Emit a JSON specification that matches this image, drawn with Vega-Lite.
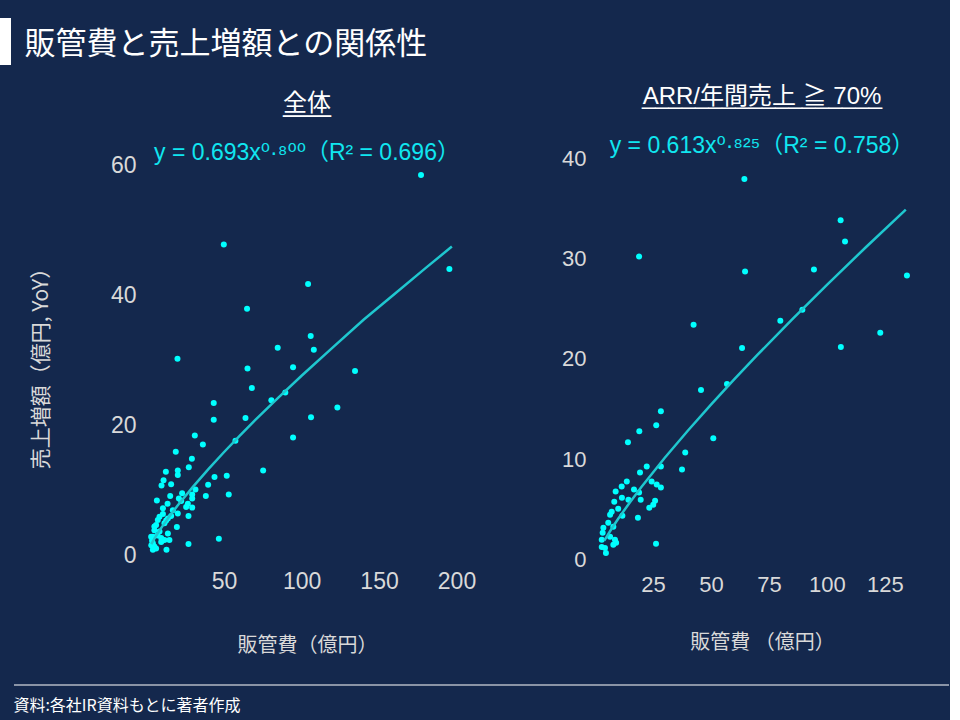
{
  "$schema": "https://vega.github.io/schema/vega-lite/v6.json",
  "background": "#14284d",
  "padding": {"left": 0, "top": 18, "right": 0, "bottom": 6},
  "spacing": 20,
  "datasets": {
    "all": [
      {"x": 177.1, "y": 58.5}, {"x": 49.8, "y": 47.8}, {"x": 195.4, "y": 44.0}, {"x": 104.2, "y": 41.7},
      {"x": 64.8, "y": 37.9}, {"x": 105.9, "y": 33.7}, {"x": 84.6, "y": 31.9}, {"x": 107.9, "y": 31.6},
      {"x": 19.9, "y": 30.2}, {"x": 65.1, "y": 28.7}, {"x": 94.5, "y": 28.9}, {"x": 134.5, "y": 28.3},
      {"x": 67.9, "y": 25.7}, {"x": 80.5, "y": 23.8}, {"x": 89.5, "y": 25.0}, {"x": 43.3, "y": 23.4},
      {"x": 123.1, "y": 22.7}, {"x": 43.3, "y": 20.8}, {"x": 63.8, "y": 21.1}, {"x": 106.1, "y": 21.2},
      {"x": 31.1, "y": 18.4}, {"x": 36.3, "y": 17.0}, {"x": 94.5, "y": 18.1}, {"x": 57.3, "y": 17.6},
      {"x": 18.8, "y": 15.9}, {"x": 29.2, "y": 14.8}, {"x": 27.2, "y": 13.5}, {"x": 75.2, "y": 13.0},
      {"x": 12.4, "y": 12.8}, {"x": 20.1, "y": 13.0}, {"x": 20.1, "y": 12.3}, {"x": 10.9, "y": 11.5},
      {"x": 9.6, "y": 10.7}, {"x": 15.8, "y": 10.9}, {"x": 43.8, "y": 12.0}, {"x": 51.7, "y": 12.2},
      {"x": 39.7, "y": 10.8}, {"x": 31.5, "y": 10.1}, {"x": 38.2, "y": 9.1}, {"x": 53.0, "y": 9.3},
      {"x": 6.6, "y": 8.4}, {"x": 15.2, "y": 9.1}, {"x": 22.9, "y": 9.5}, {"x": 29.4, "y": 9.3},
      {"x": 29.4, "y": 8.7}, {"x": 20.8, "y": 8.7}, {"x": 22.3, "y": 8.3}, {"x": 26.6, "y": 7.9},
      {"x": 29.4, "y": 7.3}, {"x": 13.5, "y": 7.9}, {"x": 10.5, "y": 7.2}, {"x": 16.9, "y": 6.9},
      {"x": 20.1, "y": 6.4}, {"x": 25.5, "y": 7.4}, {"x": 8.3, "y": 5.9}, {"x": 13.7, "y": 5.6},
      {"x": 15.8, "y": 6.0}, {"x": 27.0, "y": 6.0}, {"x": 10.5, "y": 6.3}, {"x": 7.2, "y": 5.4},
      {"x": 12.6, "y": 5.3}, {"x": 6.1, "y": 4.6}, {"x": 11.5, "y": 4.9}, {"x": 19.5, "y": 4.3},
      {"x": 5.0, "y": 3.8}, {"x": 8.3, "y": 3.6}, {"x": 13.7, "y": 3.3}, {"x": 4.0, "y": 2.8},
      {"x": 9.4, "y": 2.6}, {"x": 14.7, "y": 2.3}, {"x": 11.5, "y": 2.3}, {"x": 27.0, "y": 1.7},
      {"x": 46.6, "y": 2.5}, {"x": 4.0, "y": 1.8}, {"x": 9.4, "y": 2.0}, {"x": 5.0, "y": 1.3},
      {"x": 4.0, "y": 0.8}, {"x": 12.8, "y": 0.8}, {"x": 6.1, "y": 1.0}, {"x": 2.9, "y": 2.8},
      {"x": 5.0, "y": 4.4}, {"x": 3.5, "y": 2.2}, {"x": 3.0, "y": 1.5}, {"x": 7.0, "y": 3.0}
    ],
    "arr": [
      {"x": 64.4, "y": 37.9}, {"x": 105.9, "y": 33.8}, {"x": 107.8, "y": 31.7}, {"x": 19.0, "y": 30.2},
      {"x": 64.7, "y": 28.7}, {"x": 94.4, "y": 28.9}, {"x": 134.5, "y": 28.3}, {"x": 42.5, "y": 23.4},
      {"x": 79.9, "y": 23.8}, {"x": 89.4, "y": 24.9}, {"x": 123.0, "y": 22.6}, {"x": 63.4, "y": 21.1},
      {"x": 106.0, "y": 21.2}, {"x": 45.7, "y": 16.9}, {"x": 56.9, "y": 17.5}, {"x": 28.4, "y": 14.8},
      {"x": 26.4, "y": 13.4}, {"x": 19.1, "y": 12.8}, {"x": 14.2, "y": 11.7}, {"x": 51.0, "y": 12.1},
      {"x": 38.9, "y": 10.7}, {"x": 37.5, "y": 9.0}, {"x": 22.3, "y": 9.3}, {"x": 19.4, "y": 8.7},
      {"x": 28.4, "y": 9.3}, {"x": 28.4, "y": 7.2}, {"x": 24.4, "y": 7.8}, {"x": 26.6, "y": 7.5},
      {"x": 13.7, "y": 7.8}, {"x": 11.5, "y": 7.3}, {"x": 8.9, "y": 6.8}, {"x": 16.8, "y": 7.0},
      {"x": 19.0, "y": 6.7}, {"x": 11.6, "y": 6.2}, {"x": 14.4, "y": 6.0}, {"x": 19.7, "y": 6.0},
      {"x": 8.3, "y": 5.8}, {"x": 25.9, "y": 5.9}, {"x": 25.1, "y": 5.5}, {"x": 23.4, "y": 5.2},
      {"x": 10.0, "y": 5.1}, {"x": 7.2, "y": 4.8}, {"x": 6.5, "y": 4.5}, {"x": 11.8, "y": 4.4},
      {"x": 18.5, "y": 4.2}, {"x": 5.7, "y": 3.7}, {"x": 7.9, "y": 3.3}, {"x": 3.6, "y": 3.2},
      {"x": 3.3, "y": 2.7}, {"x": 6.5, "y": 2.3}, {"x": 2.9, "y": 2.0}, {"x": 8.6, "y": 2.0},
      {"x": 9.1, "y": 1.7}, {"x": 7.9, "y": 1.5}, {"x": 2.9, "y": 1.3}, {"x": 4.3, "y": 1.2},
      {"x": 4.7, "y": 0.7}, {"x": 26.3, "y": 1.6}
    ],
    "fitAll": [
      {"x": 3, "y": 1.67}, {"x": 5, "y": 2.51}, {"x": 7, "y": 3.29}, {"x": 10, "y": 4.37},
      {"x": 15, "y": 6.05}, {"x": 20, "y": 7.61}, {"x": 30, "y": 10.53}, {"x": 40, "y": 13.26},
      {"x": 50, "y": 15.85}, {"x": 60, "y": 18.34}, {"x": 70, "y": 20.77}, {"x": 85, "y": 24.23},
      {"x": 100, "y": 27.59}, {"x": 120, "y": 31.92}, {"x": 140, "y": 36.21}, {"x": 160, "y": 40.17},
      {"x": 180, "y": 44.15}, {"x": 197, "y": 47.47}
    ],
    "fitArr": [
      {"x": 4, "y": 1.92}, {"x": 7, "y": 3.05}, {"x": 10, "y": 4.10}, {"x": 15, "y": 5.72},
      {"x": 20, "y": 7.26}, {"x": 30, "y": 10.14}, {"x": 40, "y": 12.86}, {"x": 50, "y": 15.46},
      {"x": 60, "y": 17.97}, {"x": 70, "y": 20.40}, {"x": 85, "y": 23.95}, {"x": 100, "y": 27.38},
      {"x": 117, "y": 31.17}, {"x": 134, "y": 34.86}
    ]
  },
  "vconcat": [
    {
      "data": {"values": [{"label": "販管費と売上増額との関係性"}]},
      "width": 11,
      "height": 47,
      "layer": [
        {
          "mark": {"type": "rect", "color": "#ffffff"},
          "encoding": {}
        },
        {
          "mark": {
            "type": "text",
            "align": "left",
            "baseline": "middle",
            "dx": 19,
            "dy": 3,
            "font": "Noto Sans CJK JP",
            "fontSize": 31,
            "color": "#ffffff"
          },
          "encoding": {"text": {"field": "label"}}
        }
      ]
    },
    {
      "spacing": 29,
      "vconcat": [
        {
          "spacing": 29,
          "hconcat": [
            {
              "data": {"values": [{"k": "pad"}]},
              "width": 1,
              "height": 1,
              "mark": {"type": "rect", "opacity": 0},
              "encoding": {}
            },
            {
              "spacing": 85,
              "hconcat": [
                {
                  "width": 330,
                  "height": 410,
                  "title": {
                    "text": ["全体", "____"],
                    "lineHeight": 0,
                    "frame": "group",
                    "font": "DejaVu Sans, Noto Sans CJK JP",
                    "fontSize": 24,
                    "fontWeight": "normal",
                    "color": "#ffffff",
                    "subtitle": "y = 0.693x⁰·⁸⁰⁰（R² = 0.696）",
                    "subtitleFont": "Liberation Sans, DejaVu Sans, Noto Sans CJK JP",
                    "subtitleFontSize": 23,
                    "subtitleColor": "#10e6f0",
                    "subtitlePadding": 26,
                    "offset": -11
                  },
                  "layer": [
                    {
                      "data": {"name": "all"},
                      "mark": {"type": "circle", "size": 36, "color": "#00ffff", "opacity": 1},
                      "encoding": {
                        "x": {
                          "field": "x", "type": "quantitative",
                          "scale": {"domain": [-3, 210], "nice": false, "zero": false},
                          "axis": {"values": [50, 100, 150, 200], "labelFontSize": 23, "labelPadding": 2, "title": "販管費（億円）", "titlePadding": 42}
                        },
                        "y": {
                          "field": "y", "type": "quantitative",
                          "scale": {"domain": [-2, 61.1], "nice": false, "zero": false},
                          "axis": {"values": [0, 20, 40, 60], "labelFontSize": 23, "labelPadding": 6, "title": "売上増額（億円, YoY）", "titleFontSize": 21, "titlePadding": 59}
                        }
                      }
                    },
                    {
                      "data": {"name": "fitAll"},
                      "mark": {"type": "line", "color": "#1fc7cf", "strokeWidth": 2.5},
                      "encoding": {
                        "x": {"field": "x", "type": "quantitative"},
                        "y": {"field": "y", "type": "quantitative"}
                      }
                    }
                  ]
                },
                {
                  "width": 340,
                  "height": 414,
                  "title": {
                    "text": ["ARR/年間売上 ≧ 70%", "__________________"],
                    "lineHeight": 0,
                    "frame": "group",
                    "font": "Liberation Sans, Noto Sans CJK JP",
                    "fontSize": 24,
                    "fontWeight": "normal",
                    "color": "#ffffff",
                    "subtitle": "y = 0.613x⁰·⁸²⁵（R² = 0.758）",
                    "subtitleFont": "Liberation Sans, DejaVu Sans, Noto Sans CJK JP",
                    "subtitleFontSize": 23,
                    "subtitleColor": "#10e6f0",
                    "subtitlePadding": 26,
                    "offset": -11
                  },
                  "layer": [
                    {
                      "data": {"name": "arr"},
                      "mark": {"type": "circle", "size": 36, "color": "#00ffff", "opacity": 1},
                      "encoding": {
                        "x": {
                          "field": "x", "type": "quantitative",
                          "scale": {"domain": [-1.3, 145.3], "nice": false, "zero": false},
                          "axis": {"values": [25, 50, 75, 100, 125], "labelFontSize": 22, "labelPadding": 2, "title": "販管費 （億円）", "titlePadding": 37}
                        },
                        "y": {
                          "field": "y", "type": "quantitative",
                          "scale": {"domain": [-1.2, 40], "nice": false, "zero": false},
                          "axis": {"values": [0, 10, 20, 30, 40], "labelFontSize": 22, "labelPadding": 6, "title": null}
                        }
                      }
                    },
                    {
                      "data": {"name": "fitArr"},
                      "mark": {"type": "line", "color": "#1fc7cf", "strokeWidth": 2.5},
                      "encoding": {
                        "x": {"field": "x", "type": "quantitative"},
                        "y": {"field": "y", "type": "quantitative"}
                      }
                    }
                  ]
                }
              ]
            }
          ]
        },
        {
          "spacing": 12,
          "hconcat": [
            {
              "data": {"values": [{"k": "pad"}]},
              "width": 1,
              "height": 1,
              "mark": {"type": "rect", "opacity": 0},
              "encoding": {}
            },
            {
              "data": {"values": [{"v": 0}]},
              "width": 935,
              "height": 1,
              "mark": {"type": "rule", "color": "#ffffff", "strokeWidth": 1.2},
              "encoding": {
                "y": {"field": "v", "type": "quantitative", "scale": {"domain": [0, 1]}, "axis": null}
              },
              "title": {
                "text": "資料:各社IR資料もとに著者作成",
                "orient": "bottom",
                "anchor": "start",
                "offset": 12,
                "font": "Noto Sans CJK JP",
                "fontSize": 16,
                "fontWeight": "normal",
                "color": "#ffffff"
              }
            }
          ]
        }
      ]
    }
  ],
  "config": {
    "view": {"stroke": null},
    "axis": {
      "domain": false,
      "ticks": false,
      "grid": false,
      "labelColor": "#d9d9d9",
      "labelFont": "Liberation Sans",
      "labelFlush": false,
      "titleColor": "#d9d9d9",
      "titleFont": "Noto Sans CJK JP",
      "titleFontWeight": "normal",
      "titleFontSize": 20
    }
  }
}
